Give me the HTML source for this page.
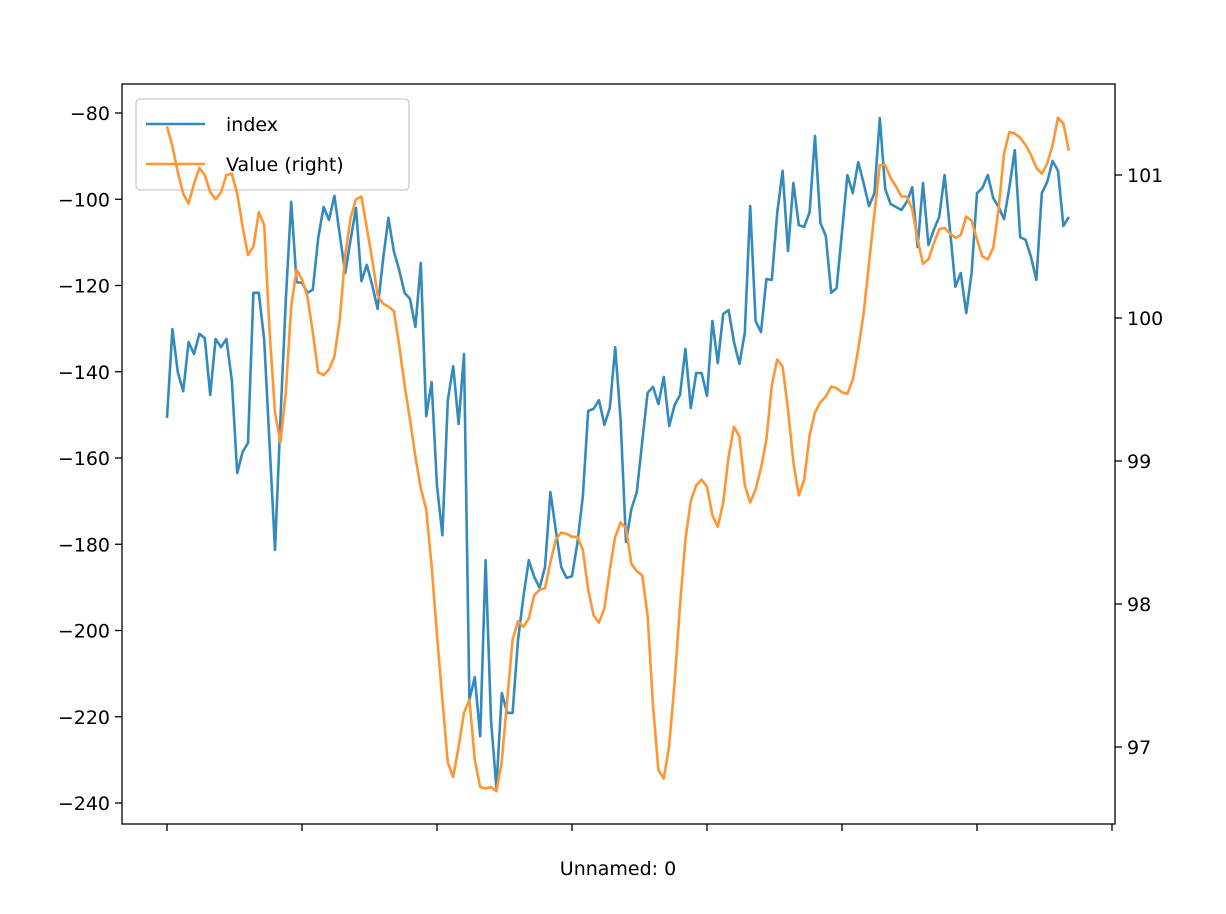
<!DOCTYPE html>
<html><head><meta charset="utf-8"><style>
body{margin:0;background:#fff;}
svg{display:block;font-family:"DejaVu Sans","Liberation Sans",sans-serif;}
</style></head><body>
<svg id="chart" width="1226" height="914">
<rect width="1226" height="914" fill="#fff"/>
<g>
<rect x="136" y="99" width="273" height="91" rx="4" fill="#fff" fill-opacity="0.8" stroke="#ccc" stroke-width="1.3"/>
<line x1="146" y1="124" x2="205" y2="124" stroke="#348abd" stroke-width="2.6"/>
<text x="226" y="131" font-size="19">index</text>
<line x1="146" y1="164" x2="205" y2="164" stroke="#ff9633" stroke-width="2.6"/>
<text x="226" y="171" font-size="19">Value (right)</text>
</g>
<g id="plot"></g>
<rect x="122" y="84" width="993" height="740" fill="none" stroke="#000" stroke-width="1.3"/>
<g id="axes"></g>
<text x="618" y="875" text-anchor="middle" font-size="19">Unnamed: 0</text>
</svg>
<script>
const indexValues = [-150.7,-130.1,-140.1,-144.5,-133.1,-135.9,-131.2,-132.2,-145.4,-132.4,-134.3,-132.4,-141.9,-163.5,-158.6,-156.5,-121.7,-121.7,-132.6,-157,-181.3,-151.2,-123.4,-100.6,-119.2,-119.4,-121.7,-121,-109,-101.8,-104.8,-99.2,-108.3,-117.1,-109.4,-102,-119,-115.2,-119.9,-125.4,-114.1,-104.3,-112,-116.4,-121.7,-123.1,-129.6,-114.8,-150.3,-142.4,-166.5,-177.9,-146.6,-138.7,-152.1,-135.9,-216.1,-210.8,-224.5,-183.7,-220.8,-236.5,-214.5,-219.1,-219.1,-202.2,-192.2,-183.7,-187.6,-190.1,-185.3,-167.9,-176.7,-185.3,-187.8,-187.4,-179.7,-169,-149.1,-148.6,-146.6,-152.3,-148.4,-134.3,-151.2,-179.5,-171.8,-167.9,-156.3,-144.9,-143.5,-147.5,-141.2,-152.6,-147.7,-145.4,-134.7,-148.4,-140.3,-140.3,-145.6,-128.2,-138,-126.6,-125.7,-133.1,-138.2,-131,-101.6,-128.2,-130.8,-118.5,-118.7,-103.2,-93.4,-112,-96.2,-106,-106.4,-103,-85.3,-105.5,-108.5,-121.7,-120.6,-107.6,-94.4,-98.6,-91.4,-96.2,-101.6,-98.6,-81.2,-97.6,-101.1,-101.8,-102.5,-100.6,-97.2,-111.1,-96.2,-110.6,-107.1,-104.1,-94.4,-107.1,-120.3,-117.1,-126.4,-117.1,-98.6,-97.4,-94.4,-99.7,-101.8,-104.6,-97.2,-88.6,-108.8,-109.4,-113.4,-118.7,-98.6,-96,-91.1,-93.4,-106.2,-104.1];
const rightValues = [101.34,101.20,101.02,100.87,100.80,100.94,101.05,101.00,100.88,100.83,100.88,101.00,101.01,100.87,100.64,100.44,100.50,100.74,100.65,99.90,99.34,99.13,99.48,100.08,100.34,100.27,100.15,99.90,99.62,99.60,99.64,99.73,99.99,100.44,100.70,100.83,100.85,100.63,100.41,100.16,100.10,100.08,100.05,99.81,99.53,99.29,99.03,98.81,98.66,98.27,97.78,97.33,96.89,96.79,97.00,97.24,97.33,96.91,96.72,96.71,96.72,96.69,96.90,97.33,97.75,97.88,97.84,97.90,98.06,98.10,98.11,98.29,98.45,98.50,98.49,98.47,98.47,98.38,98.10,97.92,97.87,97.97,98.24,98.47,98.57,98.53,98.28,98.23,98.20,97.92,97.29,96.84,96.78,97.01,97.45,97.99,98.45,98.72,98.83,98.87,98.82,98.62,98.54,98.71,99.03,99.24,99.17,98.83,98.71,98.80,98.95,99.15,99.53,99.71,99.66,99.36,98.99,98.76,98.87,99.18,99.34,99.41,99.45,99.52,99.51,99.48,99.47,99.57,99.78,100.03,100.38,100.73,101.07,101.07,100.98,100.92,100.85,100.85,100.76,100.55,100.38,100.41,100.52,100.62,100.63,100.59,100.56,100.58,100.71,100.68,100.55,100.43,100.41,100.49,100.76,101.15,101.30,101.29,101.26,101.21,101.14,101.05,101.01,101.08,101.21,101.40,101.36,101.17];
const leftTicks = [-80,-100,-120,-140,-160,-180,-200,-220,-240];
const rightTicks = [97,98,99,100,101];
const xTicks = [0,25,50,75,100,125,150,175];

const NS = "http://www.w3.org/2000/svg";
const xScale = i => 167 + i * 5.4;
const yLeft = v => 113 + (-80 - v) * 4.3125;
const yRight = v => 175 + (101 - v) * 143;
const plot = document.getElementById('plot');
const axes = document.getElementById('axes');

function mk(tag, attrs, parent) {
  const e = document.createElementNS(NS, tag);
  for (const k in attrs) e.setAttribute(k, attrs[k]);
  parent.appendChild(e);
  return e;
}

const p1 = mk('polyline', {points: indexValues.map((v,i)=>xScale(i).toFixed(1)+','+yLeft(v).toFixed(1)).join(' '), fill:'none', stroke:'#348abd', 'stroke-width':2.6, 'stroke-linejoin':'round'}, plot);


const p2 = mk('polyline', {points: rightValues.map((v,i)=>xScale(i).toFixed(1)+','+yRight(v).toFixed(1)).join(' '), fill:'none', stroke:'#ff9633', 'stroke-width':2.6, 'stroke-linejoin':'round'}, plot);



leftTicks.forEach(t => {
  const y = yLeft(t);
  const l = mk('line', {x1:115, x2:122, y1:y, y2:y, stroke:'#000', 'stroke-width':1.3}, axes);
  
  
  const tx = mk('text', {x:110, y:y+7, 'text-anchor':'end', 'font-size':19}, axes);
  tx.textContent = String(t).replace('-', '\u2212');
  
  
});
rightTicks.forEach(t => {
  const y = yRight(t);
  const l = mk('line', {x1:1115, x2:1122, y1:y, y2:y, stroke:'#000', 'stroke-width':1.3}, axes);
  
  
  const tx = mk('text', {x:1127, y:y+7, 'font-size':19}, axes);
  tx.textContent = String(t);
  
  
});
xTicks.forEach(t => {
  const x = xScale(t);
  const l = mk('line', {x1:x, x2:x, y1:824, y2:831, stroke:'#000', 'stroke-width':1.3}, axes);
  
  
});
</script>
</body></html>
